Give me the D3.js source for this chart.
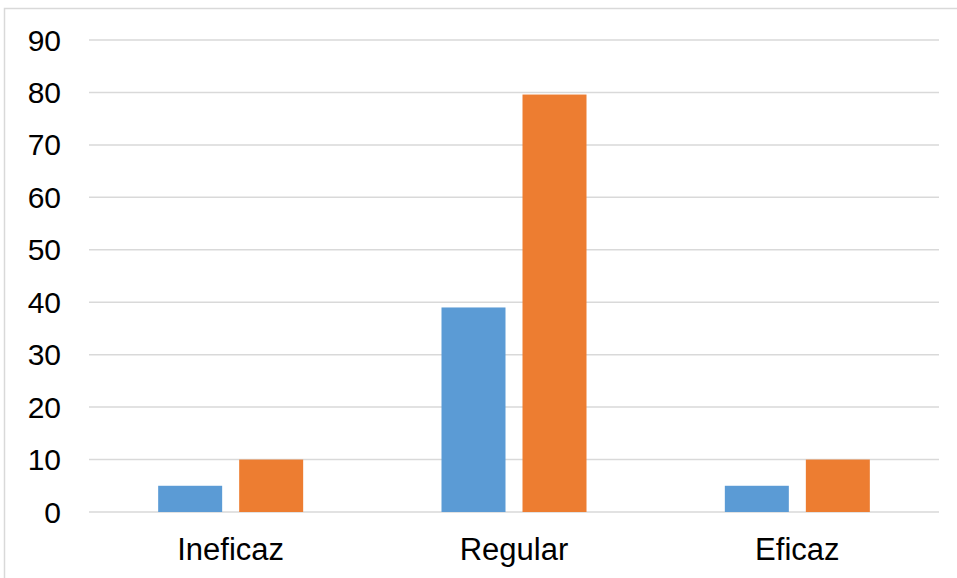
<!DOCTYPE html>
<html>
<head>
<meta charset="utf-8">
<script src="https://cdn.jsdelivr.net/npm/d3@7"></script>
<style>
  html, body { margin: 0; padding: 0; background: #fff; }
  svg { display: block; }
</style>
</head>
<body>
<svg id="chart" width="957" height="578"></svg>
<script>
const categories = ["Ineficaz", "Regular", "Eficaz"];
const seriesNames = ["Serie 1", "Serie 2"];
const series1 = [5, 39, 5];
const series2 = [10, 79.6, 10];
const yTicks = [0, 10, 20, 30, 40, 50, 60, 70, 80, 90];
const colors = ["#5B9BD5", "#ED7D31"];

const svg = d3.select("#chart");
const font = "'Liberation Sans', Arial, sans-serif";

// outer border
svg.append("rect")
  .attr("x", 4.5).attr("y", 8.5)
  .attr("width", 1000).attr("height", 700)
  .attr("fill", "none").attr("stroke", "#D9D9D9").attr("stroke-width", 1.5);

const plot = { left: 89, right: 939, top: 40, bottom: 512 };

const y = d3.scaleLinear().domain([0, 90]).range([plot.bottom, plot.top]);
const x = d3.scaleBand().domain(categories).range([plot.left, plot.right]).padding(0);
const inner = d3.scaleBand().domain(seriesNames).range([-72.5, 72.5]).paddingInner(0.21).paddingOuter(0);

// gridlines
svg.append("g").selectAll("line").data(yTicks).join("line")
  .attr("x1", plot.left).attr("x2", plot.right)
  .attr("y1", d => y(d)).attr("y2", d => y(d))
  .attr("stroke", "#D9D9D9").attr("stroke-width", 1.5);

// y tick labels
svg.append("g").selectAll("text").data(yTicks).join("text")
  .attr("x", 61).attr("y", d => y(d))
  .attr("text-anchor", "end").attr("dominant-baseline", "central")
  .attr("font-family", font).attr("font-size", 30).attr("fill", "#000")
  .text(d => d);

// bars
const data = [series1, series2];
data.forEach((vals, si) => {
  svg.append("g").selectAll("rect").data(vals).join("rect")
    .attr("x", (d, i) => x(categories[i]) + x.bandwidth() / 2 + inner(seriesNames[si]))
    .attr("width", inner.bandwidth())
    .attr("y", d => y(d))
    .attr("height", d => y(0) - y(d))
    .attr("fill", colors[si]);
});

// category labels
svg.append("g").selectAll("text").data(categories).join("text")
  .attr("x", d => x(d) + x.bandwidth() / 2)
  .attr("y", 560)
  .attr("text-anchor", "middle")
  .attr("font-family", font).attr("font-size", 31).attr("fill", "#000")
  .text(d => d);
</script>
</body>
</html>
